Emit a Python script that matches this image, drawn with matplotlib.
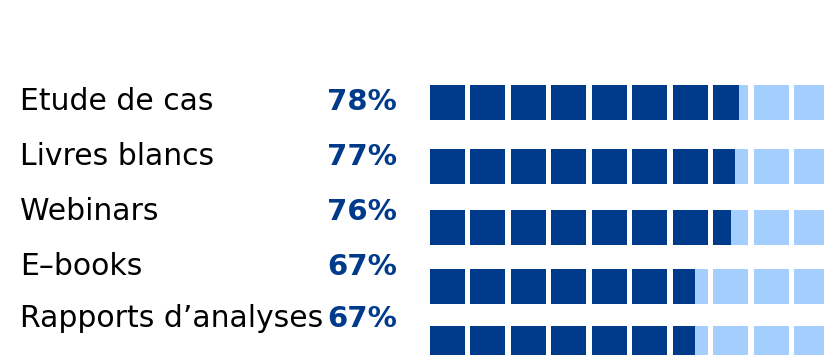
import numpy as np
import matplotlib.pyplot as plt

# data
categories = ["Etude de cas", "Livres blancs", "Webinars", "E\u2013books", "Rapports d\u2019analyses"]
values = [78, 77, 76, 67, 67]

# colours / layout (pixel coordinates of the 824x355 canvas)
dark = "#003A8A"
light = "#A4CEFD"
n_sq = 10
sq = 35.0
pitch = 40.5
x_start = 430
bar_len = 396
row_tops = [85, 149, 210, 269, 326]
baselines = [110, 165, 220, 275, 327]

fig = plt.figure(figsize=(8.24, 3.55), dpi=100)
ax = fig.add_axes([0, 0, 1, 1])
ax.set_xlim(0, 824)
ax.set_ylim(355, 0)
ax.axis("off")

for cat, val, top, base in zip(categories, values, row_tops, baselines):
    ax.text(20, base, cat, fontsize=21.5, color="black", va="baseline", ha="left")
    ax.text(397, base, f"{val}%", fontsize=21, fontweight="bold", color=dark,
            va="baseline", ha="right")
    fill_end = val / 100 * bar_len
    lefts = x_start + np.arange(n_sq) * pitch
    ax.barh(top + sq / 2, sq, left=lefts, height=sq, color=light, linewidth=0)
    dark_w = np.clip(fill_end - (lefts - x_start), 0, sq)
    ax.barh(top + sq / 2, dark_w, left=lefts, height=sq, color=dark, linewidth=0)

fig.savefig("out.png", dpi=100)
